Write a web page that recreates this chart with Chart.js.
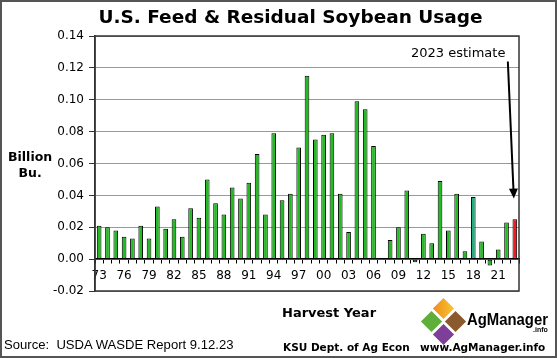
<!DOCTYPE html>
<html>
<head>
<meta charset="utf-8">
<script src="https://cdn.jsdelivr.net/npm/chart.js@4/dist/chart.umd.min.js"></script>
<style>
  html, body { margin: 0; padding: 0; background: #fff; }
  #wrap { position: relative; width: 557px; height: 358px; overflow: hidden; }
  #frame { position: absolute; left: 0; top: 0; width: 557px; height: 358px; box-sizing: border-box; border: 2px solid #555; pointer-events: none; }
  .t { position: absolute; white-space: nowrap; color: #000; }
  .dj { font-family: "DejaVu Sans", Verdana, sans-serif; }
  .b { font-weight: bold; }
  .dia { position: absolute; width: 15px; height: 15px; transform: rotate(45deg); }
</style>
</head>
<body>
<div id="wrap">
  <canvas id="chart" width="557" height="358"></canvas>

  <div class="t dj b" style="left:0;width:557px;text-align:center;top:6px;font-size:18.5px;padding-left:24px;box-sizing:border-box;">U.S. Feed &amp; Residual Soybean Usage</div>
  <div class="t dj b" style="left:8px;top:149px;font-size:12.5px;text-align:center;line-height:16px;">Billion<br>Bu.</div>
  <div class="t dj" style="left:411px;top:45px;font-size:13px;">2023 estimate</div>
  <div class="t dj b" style="left:282px;top:305px;font-size:13px;">Harvest Year</div>
  <div class="t" style="left:4px;top:337px;font-size:13.5px;line-height:16px;font-family:'Liberation Sans',Arial,sans-serif;transform:scaleX(0.97);transform-origin:left top;">Source:&nbsp; USDA WASDE Report 9.12.23</div>
  <div class="t dj b" style="left:283px;top:341px;font-size:10.5px;">KSU Dept. of Ag Econ</div>
  <div class="t dj b" style="left:420px;top:341px;font-size:10.5px;">www.AgManager.info</div>

  <!-- AgManager logo -->
  <div class="dia" style="left:435.5px;top:300.5px;background:linear-gradient(225deg,#f7c531,#f08c1c);"></div>
  <div class="dia" style="left:423.5px;top:313.5px;background:#5fae3a;"></div>
  <div class="dia" style="left:447.5px;top:313.5px;background:#8a5a2e;"></div>
  <div class="dia" style="left:435.5px;top:326.5px;background:#7d3f97;"></div>
  <div class="t b" style="left:467px;top:311px;font-size:17px;line-height:17px;font-family:'Liberation Sans',Arial,sans-serif;transform:scaleX(0.875);transform-origin:left top;">AgManager</div>
  <div class="t b" style="left:533px;top:326px;font-size:7px;line-height:7px;font-family:'Liberation Sans',Arial,sans-serif;">.info</div>

  <div id="frame"></div>
</div>
<script>
// Harvest years and feed & residual use (billion bushels)
const years = [
  1973, 1974, 1975, 1976, 1977, 1978, 1979, 1980, 1981, 1982,
  1983, 1984, 1985, 1986, 1987, 1988, 1989, 1990, 1991, 1992,
  1993, 1994, 1995, 1996, 1997, 1998, 1999, 2000, 2001, 2002,
  2003, 2004, 2005, 2006, 2007, 2008, 2009, 2010, 2011, 2012,
  2013, 2014, 2015, 2016, 2017, 2018, 2019, 2020, 2021, 2022,
  2023
];
const usage = [
  0.021, 0.020, 0.018, 0.014, 0.013, 0.021, 0.013, 0.033, 0.019, 0.025,
  0.014, 0.032, 0.026, 0.050, 0.035, 0.028, 0.045, 0.038, 0.048, 0.066,
  0.028, 0.079, 0.037, 0.041, 0.070, 0.115, 0.075, 0.078, 0.079, 0.041,
  0.017, 0.099, 0.094, 0.071, 0.000, 0.012, 0.020, 0.043, -0.002, 0.016,
  0.010, 0.049, 0.018, 0.041, 0.005, 0.039, 0.011, -0.004, 0.006, 0.023,
  0.025
];
const yTicks = { min: -0.02, max: 0.14, step: 0.02 };

const labels = years.map(y => String(y).slice(2));
const barColors = years.map(y => y === 2023 ? '#ee1c1c' : (y === 2018 ? '#22b07e' : '#22bb22'));

// plot frame + arrow to the estimate bar
const extras = {
  id: 'extras',
  afterDraw(chart) {
    const { ctx, chartArea: a, scales: { x, y } } = chart;
    ctx.save();
    ctx.strokeStyle = '#333';
    ctx.lineWidth = 1.5;
    ctx.strokeRect(a.left, a.top, a.right - a.left, a.bottom - a.top);

    const tipX = x.getPixelForValue(years.length - 1) - 1;
    const tipY = y.getPixelForValue(0.038);
    const startX = tipX - 6;
    const startY = y.getPixelForValue(0.124);
    const ang = Math.atan2(tipY - startY, tipX - startX);
    ctx.strokeStyle = '#000';
    ctx.fillStyle = '#000';
    ctx.lineWidth = 2;
    ctx.beginPath();
    ctx.moveTo(startX, startY);
    ctx.lineTo(tipX - 8 * Math.cos(ang), tipY - 8 * Math.sin(ang));
    ctx.stroke();
    ctx.beginPath();
    ctx.moveTo(tipX, tipY);
    ctx.lineTo(tipX - 10 * Math.cos(ang) + 4.5 * Math.sin(ang), tipY - 10 * Math.sin(ang) - 4.5 * Math.cos(ang));
    ctx.lineTo(tipX - 10 * Math.cos(ang) - 4.5 * Math.sin(ang), tipY - 10 * Math.sin(ang) + 4.5 * Math.cos(ang));
    ctx.closePath();
    ctx.fill();
    ctx.restore();
  }
};

new Chart(document.getElementById('chart'), {
  type: 'bar',
  data: {
    labels,
    datasets: [{
      data: usage,
      backgroundColor: barColors,
      borderColor: '#000',
      borderWidth: 1,
      borderSkipped: false,
      barPercentage: 0.56,
      categoryPercentage: 1
    }]
  },
  options: {
    responsive: false,
    animation: false,
    layout: { padding: { top: 36, right: 38, bottom: 67, left: 0 } },
    plugins: { legend: { display: false }, tooltip: { enabled: false } },
    scales: {
      x: {
        position: { y: 0 },
        afterFit: s => { s.height = 0; },
        grid: { offset: true, drawOnChartArea: false, tickLength: 4, color: '#000' },
        border: { color: '#000', width: 1.5 },
        ticks: {
          autoSkip: false,
          maxRotation: 0,
          padding: 6,
          color: '#000',
          font: { family: 'DejaVu Sans', size: 12 },
          callback: (v, i) => i % 3 === 0 ? labels[i] : ''
        }
      },
      y: {
        min: yTicks.min,
        max: yTicks.max,
        afterFit: s => { s.width = 95; },
        grid: { color: '#999', lineWidth: 1, tickLength: 6, tickColor: '#333' },
        border: { color: '#333', width: 1.5 },
        ticks: {
          stepSize: yTicks.step,
          padding: 5,
          color: '#000',
          font: { family: 'DejaVu Sans', size: 12 },
          callback: v => Number(v).toFixed(2)
        }
      }
    }
  },
  plugins: [extras]
});
</script>
</body>
</html>
